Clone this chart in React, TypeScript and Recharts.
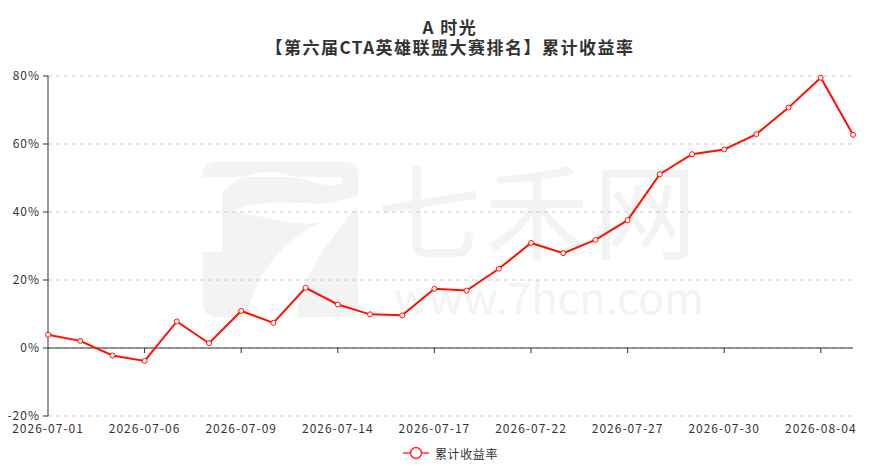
import {
  LineChart,
  Line,
  XAxis,
  YAxis,
  CartesianGrid,
  ReferenceLine,
  Legend,
} from "recharts";

const dates = [
  "2026-07-01", "2026-07-02", "2026-07-03", "2026-07-06", "2026-07-07",
  "2026-07-08", "2026-07-09", "2026-07-10", "2026-07-13", "2026-07-14",
  "2026-07-15", "2026-07-16", "2026-07-17", "2026-07-20", "2026-07-21",
  "2026-07-22", "2026-07-23", "2026-07-24", "2026-07-27", "2026-07-28",
  "2026-07-29", "2026-07-30", "2026-07-31", "2026-08-03", "2026-08-04",
  "2026-08-05",
];

const returns = [
  3.9, 2.1, -2.2, -3.8, 7.8, 1.4, 10.9, 7.4, 17.7, 12.8,
  9.9, 9.6, 17.4, 16.9, 23.3, 30.9, 27.9, 31.8, 37.6, 51.1,
  57.0, 58.4, 62.9, 70.7, 79.5, 62.7,
];

const yTicks = [-20, 0, 20, 40, 60, 80];
const tickDates = dates.filter((_, i) => i % 3 === 0);

const seriesName = "累计收益率";
const red = "#ff1100";
const font = "'Noto Sans CJK SC', 'Noto Sans', sans-serif";

const data = dates.map((d, i) => ({ date: d, value: returns[i] }));

function LegendBox() {
  return (
    <div
      style={{
        display: "flex",
        justifyContent: "center",
        alignItems: "center",
        height: 20,
        fontFamily: font,
        fontSize: 12,
        color: "#333",
        letterSpacing: 0.6,
      }}
    >
      <svg width={26} height={14} style={{ marginRight: 6 }}>
        <line x1={0} y1={7} x2={26} y2={7} stroke="#ff3333" strokeWidth={1.5} />
        <circle cx={13} cy={7} r={5.5} fill="#fff" stroke="#ff3333" strokeWidth={1.5} />
      </svg>
      <span>{seriesName}</span>
    </div>
  );
}

function Backdrop() {
  const g = "#f3f3f3";
  return (
    <svg width={875} height={475} style={{ position: "absolute", left: 0, top: 0 }}>
      {/* watermark */}
      <rect x={203} y={162} width={155} height={155} rx={12} fill={g} />
      <rect x={203} y={177} width={19} height={75} fill="#fff" />
      <path d="M222,177 L342,177 L342,184 C318,190 296,172 268,172 C248,172 232,182 222,192 Z" fill="#fff" />
      <path d="M232,212 C262,196 300,206 330,203 L358,196 L358,205 C330,240 300,275 297,317 L247,317 C255,270 290,235 322,222 C290,228 262,214 232,212 Z" fill="#fff" />
      <text x={377} y={252} fontFamily={font} fontSize={104} letterSpacing={4} fill={g}>七禾网</text>
      <text x={394} y={314} fontFamily={font} fontSize={43} fill={g}>www.7hcn.com</text>
      {/* title */}
      <text x={450} y={34} textAnchor="middle" fontFamily={font} fontSize={17} fontWeight="bold" fill="#333" letterSpacing={1.5}>
        A 时光
      </text>
      <text x={450} y={54} textAnchor="middle" fontFamily={font} fontSize={17} fontWeight="bold" fill="#333" letterSpacing={1.5}>
        【第六届CTA英雄联盟大赛排名】累计收益率
      </text>
    </svg>
  );
}

export default function App() {
  const tickStyle = { fontSize: 12, fill: "#333", fontFamily: font, letterSpacing: 1 };
  return (
    <div style={{ position: "absolute", left: 0, top: 0, width: 875, height: 475, background: "#fff" }}>
      <Backdrop />
      <div style={{ position: "absolute", left: 0, top: 0 }}>
        <LineChart width={875} height={475} data={data} margin={{ top: 76, right: 22, left: 0, bottom: 12 }}>
          <CartesianGrid vertical={false} stroke="#ccc" strokeDasharray="4 4" />
          <XAxis
            dataKey="date"
            interval={2}
            axisLine={false}
            tickLine={false}
            height={27}
            tick={tickStyle}
          />
          <YAxis
            width={48}
            domain={[-20, 80]}
            ticks={yTicks}
            tickFormatter={(v) => `${v}%`}
            axisLine={{ stroke: "#333" }}
            tickLine={{ stroke: "#333" }}
            tickSize={5}
            tickMargin={3}
            tick={tickStyle}
          />
          <ReferenceLine y={0} stroke="#333" />
          {tickDates.map((d) => (
            <ReferenceLine
              key={d}
              segment={[{ x: d, y: 0 }, { x: d, y: -1.5 }]}
              stroke="#333"
            />
          ))}
          <Legend
            verticalAlign="bottom"
            content={() => <LegendBox />}
            wrapperStyle={{ left: 48, width: 805 }}
          />
          <Line
            name={seriesName}
            dataKey="value"
            stroke={red}
            strokeWidth={2}
            dot={{ r: 2.5, fill: "#fff", stroke: red, strokeWidth: 1 }}
            activeDot={false}
            isAnimationActive={false}
          />
        </LineChart>
      </div>
    </div>
  );
}
